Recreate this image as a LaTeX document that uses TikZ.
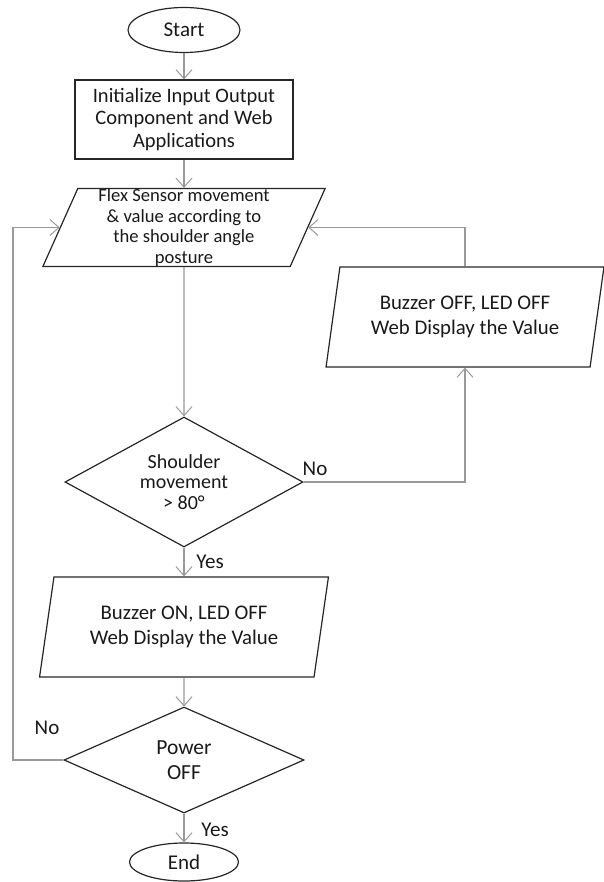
\documentclass[tikz,border=0pt]{standalone}
\usepackage{fontspec}
\setmainfont{Carlito}
\usetikzlibrary{shapes.geometric,arrows.meta}
\begin{document}
\begin{tikzpicture}[x=1pt,y=-1pt,
 shp/.style={draw=black!85, line width=1.2pt, text=black!90, align=center, font=\fontsize{21}{23}\selectfont},
 conn/.style={draw=black!40, line width=1.2pt},
 arr/.style={conn, -{Straight Barb[length=9pt,width=16pt,line width=1pt]}},
 lbl/.style={font=\fontsize{21}{23}\selectfont, text=black!90, inner sep=0pt},
 term/.style={shp, ellipse, inner sep=0pt},
 io/.style={shp, trapezium, trapezium stretches=true, inner sep=0pt},
 dec/.style={shp, diamond, inner sep=0pt}]
\useasboundingbox (0,0) rectangle (603,882);
\node[term, minimum width=112, minimum height=45] (start) at (184,30) {Start};
\node[shp, rectangle, minimum width=218, minimum height=79, inner sep=0pt, font=\fontsize{20.5}{22.5}\selectfont] (init) at (184,119.5) {Initialize Input Output\\Component and Web\\Applications};
\node[io, trapezium left angle=70, trapezium right angle=110, minimum width=283, minimum height=78, font=\fontsize{18.6}{20.5}\selectfont] (flex) at (184,227.5) {Flex Sensor movement\\\& value according to\\the shoulder angle\\posture};
\node[io, trapezium left angle=76, trapezium right angle=104, minimum width=278, minimum height=100, font=\fontsize{20.8}{25}\selectfont] (boff) at (465,317) {Buzzer OFF, LED OFF\\Web Display the Value};
\node[dec, aspect=1.83, minimum width=238, minimum height=130, font=\fontsize{20}{20.5}\selectfont] (d1) at (184,482) {Shoulder\\movement\\> 80°};
\node[io, trapezium left angle=76, trapezium right angle=104, minimum width=289, minimum height=100, font=\fontsize{20.8}{25}\selectfont] (bon) at (184,627) {Buzzer ON, LED OFF\\Web Display the Value};
\node[dec, aspect=2.26, minimum width=240, minimum height=106, font=\fontsize{21.5}{25}\selectfont] (d2) at (184,760) {Power\\OFF};
\node[term, minimum width=109, minimum height=38] (end) at (184,862) {End};
\node[lbl] (no1) at (315,469) {No};
\node[lbl] (yes1) at (210,562) {Yes};
\node[lbl] (no2) at (47,728) {No};
\node[lbl] (yes2) at (215,830) {Yes};
\coordinate (lp) at (13,760);
\draw[arr] (start) -- (init);
\draw[arr] (init) -- (flex);
\draw[arr] (flex) -- (d1);
\draw[arr] (d1) -- (bon);
\draw[arr] (bon) -- (d2);
\draw[arr] (d2) -- (end);
\draw[arr] (d1.east) -| (boff.south);
\draw[arr] (boff.north) |- (flex.east);
\draw[arr] (d2.west) -- (lp) |- (flex.west);
\end{tikzpicture}
\end{document}
